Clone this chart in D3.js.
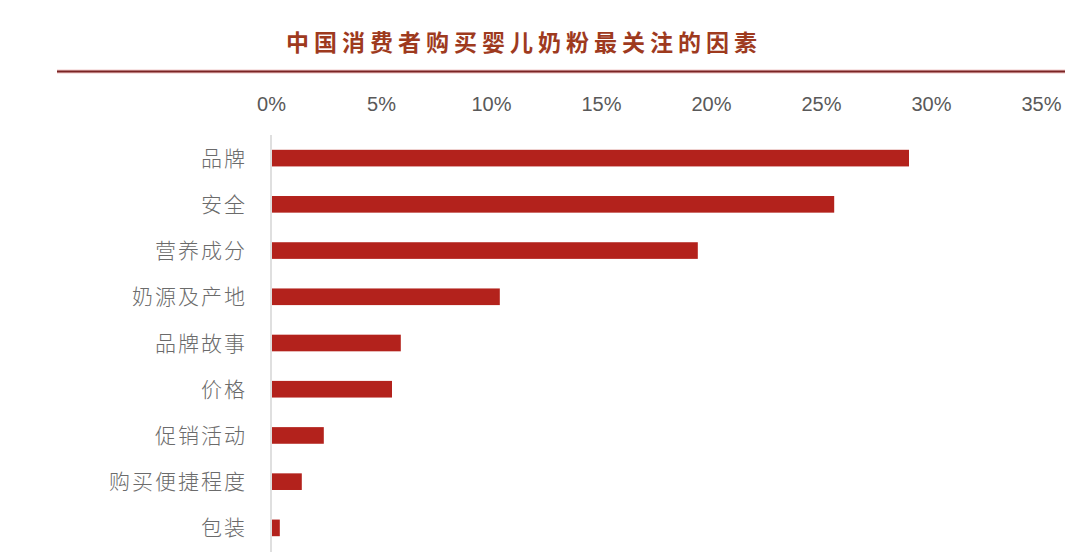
<!DOCTYPE html>
<html>
<head>
<meta charset="utf-8">
<script src="https://cdn.jsdelivr.net/npm/d3@7"></script>
<style>
  html, body { margin: 0; padding: 0; background: #fff; }
  svg { display: block; }
  .tick text { font-family: "Liberation Sans", "Open Sans", sans-serif; }
</style>
</head>
<body>
<div id="chart"></div>
<script>
// ========= Data =========
const categories = ['品牌', '安全', '营养成分', '奶源及产地', '品牌故事', '价格', '促销活动', '购买便捷程度', '包装'];
const shares = [29.0, 25.6, 19.4, 10.4, 5.9, 5.5, 2.4, 1.4, 0.4];
const tickValues = [0, 5, 10, 15, 20, 25, 30, 35];
const title = '中国消费者购买婴儿奶粉最关注的因素';

const width = 1080, height = 560;
const barColor = '#b3221c';

const svg = d3.select('#chart')
  .append('svg')
  .attr('width', width)
  .attr('height', height);

// ========= Title =========
svg.append('text')
  .attr('x', 524)
  .attr('y', 51)
  .attr('text-anchor', 'middle')
  .style('font-family', '"Noto Sans CJK SC", sans-serif')
  .style('font-weight', 'bold')
  .style('font-size', '23px')
  .style('letter-spacing', '5px')
  .style('fill', '#9e3a1e')
  .text(title);

// rule under the title
svg.append('line')
  .attr('x1', 57).attr('x2', 1065)
  .attr('y1', 71.5).attr('y2', 71.5)
  .style('stroke', '#f2c9c9')
  .style('stroke-width', 4);
svg.append('line')
  .attr('x1', 57).attr('x2', 1065)
  .attr('y1', 71.5).attr('y2', 71.5)
  .style('stroke', '#7a2424')
  .style('stroke-width', 2);

// ========= Scales =========
const x = d3.scaleLinear()
  .domain([0, 35])
  .range([271, 1041]);

const y = d3.scaleBand()
  .domain(categories)
  .range([135, 551])
  .paddingInner(0.64)
  .paddingOuter(0.32);

// ========= Top axis (labels only) =========
const xAxis = svg.append('g')
  .attr('transform', 'translate(0,112)')
  .call(d3.axisTop(x).tickValues(tickValues).tickFormat(d => d + '%').tickSize(0));
xAxis.select('.domain').remove();
xAxis.selectAll('text')
  .attr('dy', '0.35em')
  .attr('y', -8)
  .style('font-size', '20px')
  .style('fill', '#595959');

// ========= Category axis =========
svg.append('line')
  .attr('x1', x(0)).attr('x2', x(0))
  .attr('y1', 135).attr('y2', 552)
  .style('stroke', '#d4d4d4')
  .style('stroke-width', 1.5);

svg.append('g')
  .selectAll('text')
  .data(categories)
  .join('text')
  .attr('x', 247)
  .attr('y', d => y(d) + y.bandwidth() / 2)
  .attr('dy', '0.36em')
  .attr('text-anchor', 'end')
  .style('font-family', '"Noto Sans CJK SC", sans-serif')
  .style('font-weight', 300)
  .style('font-size', '21px')
  .style('letter-spacing', '2px')
  .style('fill', '#6b6b6b')
  .text(d => d);

// ========= Bars =========
svg.append('g')
  .selectAll('rect')
  .data(categories)
  .join('rect')
  .attr('x', x(0) + 1)
  .attr('y', d => y(d))
  .attr('width', (d, i) => x(shares[i]) - x(0) - 1)
  .attr('height', y.bandwidth())
  .style('fill', barColor);
</script>
</body>
</html>
